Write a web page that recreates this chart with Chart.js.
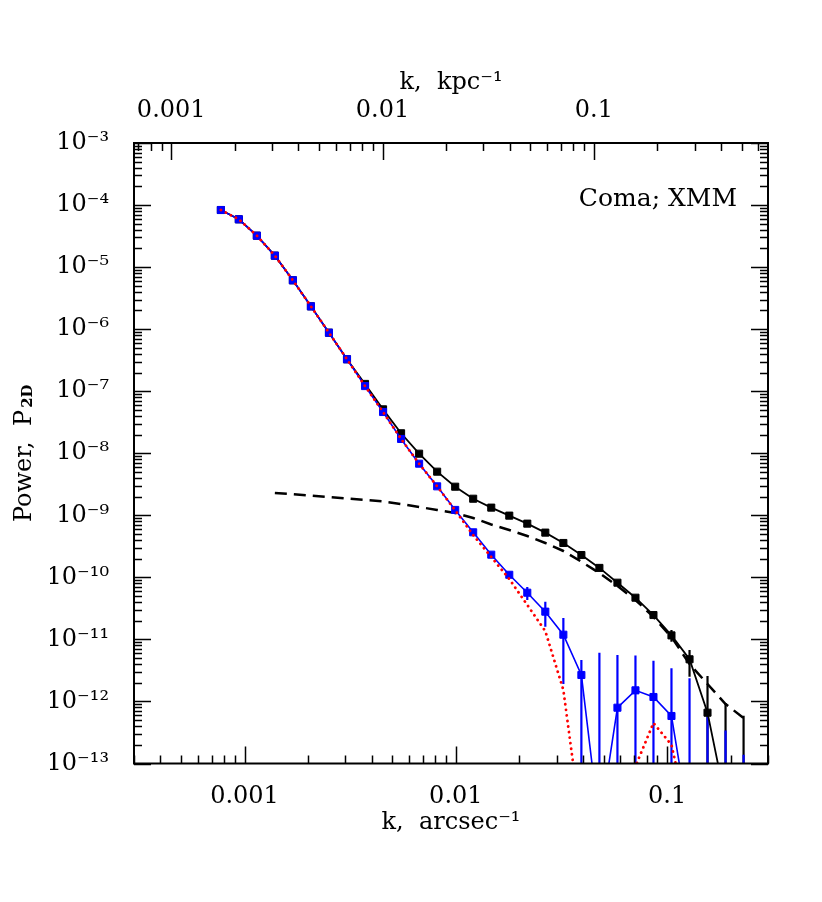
<!DOCTYPE html>
<html>
<head>
<meta charset="utf-8">
<title>Coma; XMM - power spectrum</title>
<script src="https://cdn.jsdelivr.net/npm/chart.js@4.4.1/dist/chart.umd.min.js"></script>
<style>
  html, body { margin: 0; padding: 0; background: #fff; }
  canvas { display: block; }
</style>
</head>
<body>
<canvas id="chart" width="822" height="902"></canvas>
<script>
// wavenumber bins, arcsec^-1
const kBins = [7.73e-4, 9.40e-4, 1.144e-3, 1.392e-3, 1.694e-3, 2.062e-3, 2.510e-3, 3.055e-3, 3.718e-3, 4.525e-3,
  5.507e-3, 6.703e-3, 8.158e-3, 9.93e-3, 1.208e-2, 1.471e-2, 1.790e-2, 2.178e-2, 2.651e-2, 3.227e-2,
  3.927e-2, 4.779e-2, 5.817e-2, 7.079e-2, 8.613e-2, 0.1048, 0.1276, 0.1552, 0.1889, 0.2299];

// black: measured power (values < 1e-13 are off the plot)
const measuredPower = [8.32e-5, 5.89e-5, 3.21e-5, 1.53e-5, 6.13e-6, 2.33e-6, 8.77e-7, 3.27e-7, 1.31e-7, 5.10e-8,
  2.10e-8, 9.84e-9, 5.05e-9, 2.89e-9, 1.85e-9, 1.33e-9, 9.88e-10, 7.34e-10, 5.26e-10, 3.58e-10,
  2.29e-10, 1.42e-10, 8.20e-11, 4.70e-11, 2.47e-11, 1.16e-11, 4.78e-12, 6.59e-13, 2.5e-14, 1e-14];
const measuredErrHi = [null, null, null, null, null, null, null, null, null, null,
  null, null, null, null, null, null, null, null, null, null,
  null, null, null, null, null, 1.42e-11, 6.74e-12, 2.57e-12, 9.4e-13, 5.9e-13];
const measuredErrLo = [null, null, null, null, null, null, null, null, null, null,
  null, null, null, null, null, null, null, null, null, null,
  null, null, null, null, null, 9.2e-12, 2.5e-12, 1e-14, 1e-14, 1e-14];

// blue: noise-subtracted power
const cleanPower = [8.32e-5, 5.89e-5, 3.21e-5, 1.53e-5, 6.13e-6, 2.33e-6, 8.77e-7, 3.27e-7, 1.21e-7, 4.62e-8,
  1.70e-8, 6.79e-9, 2.93e-9, 1.22e-9, 5.32e-10, 2.32e-10, 1.10e-10, 5.66e-11, 2.80e-11, 1.19e-11,
  2.67e-12, 1e-14, 7.93e-13, 1.51e-12, 1.18e-12, 5.83e-13, 1e-14, 1e-14, 1e-14, 1e-14];
const cleanErrHi = [null, null, null, null, null, null, null, null, null, null,
  null, null, null, null, null, null, null, 7.0e-11, 4.06e-11, 2.21e-11,
  4.66e-12, 6.1e-12, 5.61e-12, 5.5e-12, 4.54e-12, 3.42e-12, 2.36e-12, 5.7e-13, 3.4e-13, 1.38e-13];
const cleanErrLo = [null, null, null, null, null, null, null, null, null, null,
  null, null, null, null, null, null, null, 4.32e-11, 1.60e-11, 1.91e-12,
  1e-14, 1e-14, 1e-14, 1e-14, 1e-14, 1e-14, 1e-14, 1e-14, 1e-14, 1e-14];

// red dotted
const dottedPower = [8.32e-5, 5.89e-5, 3.21e-5, 1.53e-5, 6.13e-6, 2.33e-6, 8.77e-7, 3.27e-7, 1.21e-7, 4.62e-8,
  1.70e-8, 6.79e-9, 2.93e-9, 1.2e-9, 4.8e-10, 2.13e-10, 9.4e-11, 3.59e-11, 1.36e-11, 1.53e-12,
  1e-14, 1e-14, 1e-14, 9e-14, 4.5e-13, 2.0e-13, 1e-14, 1e-14, 1e-14, 1e-14];

// black dashed: noise model
const noiseModel = [null, null, null, 2.29e-9, 2.20e-9, 2.08e-9, 1.97e-9, 1.87e-9, 1.77e-9, 1.67e-9,
  1.52e-9, 1.36e-9, 1.22e-9, 1.09e-9, 9.05e-10, 7.11e-10, 5.80e-10, 4.64e-10, 3.58e-10, 2.66e-10,
  1.79e-10, 1.17e-10, 7.26e-11, 4.32e-11, 2.30e-11, 1.09e-11, 4.02e-12, 1.91e-12, 9.09e-13, 5.41e-13];

// axes
const kMin = 3e-4, kMax = 0.3;
const kpcPerArcsec = 0.45;
const bottomTickVals = [0.001, 0.01, 0.1];
const bottomTickLabels = ['0.001', '0.01', '0.1'];
const topTickVals = [0.001, 0.01, 0.1];
const topTickLabels = ['0.001', '0.01', '0.1'];
const yTickVals = [1e-13, 1e-12, 1e-11, 1e-10, 1e-9, 1e-8, 1e-7, 1e-6, 1e-5, 1e-4, 1e-3];
const yTickLabels = ['10⁻¹³', '10⁻¹²', '10⁻¹¹', '10⁻¹⁰', '10⁻⁹', '10⁻⁸', '10⁻⁷', '10⁻⁶', '10⁻⁵', '10⁻⁴', '10⁻³'];

const FONT = 'DejaVu Serif';
Chart.defaults.font.family = FONT;
Chart.defaults.color = '#000';

const pts = (arr) => kBins.map((k, i) => ({ x: k, y: arr[i] }));

function logTicks(min, max) {
  const out = [];
  for (let e = Math.floor(Math.log10(min)) - 1; e <= Math.ceil(Math.log10(max)); e++) {
    for (let m = 1; m <= 9; m++) {
      const v = m * Math.pow(10, e);
      if (v >= min * 0.9999 && v <= max * 1.0001) out.push({ v: v, major: m === 1 });
    }
  }
  return out;
}

function drawErrBars(ctx, xs, ys, hi, lo, color) {
  ctx.strokeStyle = color;
  ctx.lineWidth = 2.2;
  for (let i = 0; i < kBins.length; i++) {
    if (hi[i] == null) continue;
    const px = xs.getPixelForValue(kBins[i]);
    ctx.beginPath();
    ctx.moveTo(px, ys.getPixelForValue(hi[i]));
    ctx.lineTo(px, ys.getPixelForValue(lo[i]));
    ctx.stroke();
  }
}

const decorations = {
  id: 'decorations',
  beforeDatasetsDraw(chart) {
    const { ctx, chartArea: a, scales } = chart;
    ctx.save();
    ctx.beginPath();
    ctx.rect(a.left, a.top, a.right - a.left, a.bottom - a.top);
    ctx.clip();
    drawErrBars(ctx, scales.x, scales.y, measuredErrHi, measuredErrLo, '#000');
    drawErrBars(ctx, scales.x, scales.y, cleanErrHi, cleanErrLo, '#0000ff');
    ctx.restore();
  },
  afterDraw(chart) {
    const { ctx, chartArea: a, scales } = chart;
    const major = 17, minor = 8;
    ctx.save();
    ctx.strokeStyle = '#000';
    ctx.lineWidth = 1.5;
    ctx.beginPath();
    logTicks(scales.x.min, scales.x.max).forEach(t => {
      const px = Math.round(scales.x.getPixelForValue(t.v)) + 0.5;
      ctx.moveTo(px, a.bottom);
      ctx.lineTo(px, a.bottom - (t.major ? major : minor));
    });
    logTicks(scales.x2.min, scales.x2.max).forEach(t => {
      const px = Math.round(scales.x2.getPixelForValue(t.v)) + 0.5;
      ctx.moveTo(px, a.top);
      ctx.lineTo(px, a.top + (t.major ? major : minor));
    });
    logTicks(scales.y.min, scales.y.max).forEach(t => {
      const py = Math.round(scales.y.getPixelForValue(t.v)) + 0.5;
      const len = t.major ? major : minor;
      ctx.moveTo(a.left, py);
      ctx.lineTo(a.left + len, py);
      ctx.moveTo(a.right, py);
      ctx.lineTo(a.right - len, py);
    });
    ctx.stroke();

    ctx.lineWidth = 2;
    ctx.strokeRect(a.left, a.top, a.right - a.left, a.bottom - a.top);

    // label in the corner
    ctx.fillStyle = '#000';
    ctx.font = '25px "' + FONT + '"';
    ctx.textAlign = 'right';
    ctx.textBaseline = 'alphabetic';
    ctx.fillText('Coma; XMM', a.right - 31, a.top + 63);

    // y axis title with subscript
    ctx.translate(31, (a.top + a.bottom) / 2);
    ctx.rotate(-Math.PI / 2);
    ctx.font = '24px "' + FONT + '"';
    const main = 'Power,  P';
    const w1 = ctx.measureText(main).width;
    ctx.font = 'bold 15px "' + FONT + '"';
    const w2 = ctx.measureText('2D').width;
    const x0 = -(w1 + w2 + 2) / 2;
    ctx.textAlign = 'left';
    ctx.font = '24px "' + FONT + '"';
    ctx.fillText(main, x0, 0);
    ctx.font = 'bold 15px "' + FONT + '"';
    ctx.fillText('2D', x0 + w1 + 2, 1);
    ctx.restore();
  }
};

new Chart(document.getElementById('chart'), {
  type: 'line',
  data: {
    datasets: [
      {
        label: 'dotted',
        data: pts(dottedPower),
        borderColor: '#ff0000',
        borderWidth: 2.8,
        borderDash: [0.1, 5.5],
        borderCapStyle: 'round',
        pointRadius: 0,
        fill: false
      },
      {
        label: 'noise subtracted',
        data: pts(cleanPower),
        borderColor: '#0000ff',
        backgroundColor: '#0000ff',
        borderWidth: 1.6,
        pointStyle: 'rect',
        pointRadius: 5,
        pointBorderWidth: 1,
        fill: false
      },
      {
        label: 'measured',
        data: pts(measuredPower),
        borderColor: '#000',
        backgroundColor: '#000',
        borderWidth: 1.8,
        pointStyle: 'rect',
        pointRadius: 5,
        pointBorderWidth: 1,
        fill: false
      },
      {
        label: 'noise model',
        data: pts(noiseModel),
        borderColor: '#000',
        borderWidth: 2.5,
        borderDash: [12, 7],
        pointRadius: 0,
        fill: false
      }
    ]
  },
  options: {
    responsive: false,
    devicePixelRatio: 1,
    animation: false,
    layout: { padding: { left: 50, right: 54, top: 68, bottom: 65 } },
    plugins: { legend: { display: false }, tooltip: { enabled: false } },
    scales: {
      x: {
        type: 'logarithmic',
        position: 'bottom',
        min: kMin,
        max: kMax,
        grid: { display: false },
        border: { display: false },
        afterBuildTicks: s => { s.ticks = bottomTickVals.map(v => ({ value: v })); },
        afterFit: s => { s.height = 73.5; },
        ticks: {
          autoSkip: false,
          maxRotation: 0,
          padding: 11,
          font: { size: 24 },
          callback: v => bottomTickLabels[bottomTickVals.findIndex(t => Math.abs(t - v) / t < 1e-6)] || ''
        },
        title: { display: true, text: 'k,  arcsec⁻¹', font: { size: 24 }, padding: 0 }
      },
      x2: {
        type: 'logarithmic',
        position: 'top',
        display: true,
        min: kMin / kpcPerArcsec,
        max: kMax / kpcPerArcsec,
        grid: { display: false },
        border: { display: false },
        afterBuildTicks: s => { s.ticks = topTickVals.map(v => ({ value: v })); },
        afterFit: s => { s.height = 75; },
        ticks: {
          autoSkip: false,
          maxRotation: 0,
          padding: 9.5,
          font: { size: 24 },
          callback: v => topTickLabels[topTickVals.findIndex(t => Math.abs(t - v) / t < 1e-6)] || ''
        },
        title: { display: true, text: 'k,  kpc⁻¹', font: { size: 24 }, padding: 0 }
      },
      y: {
        type: 'logarithmic',
        min: 1e-13,
        max: 1e-3,
        grid: { display: false },
        border: { display: false },
        afterBuildTicks: s => { s.ticks = yTickVals.map(v => ({ value: v })); },
        afterFit: s => { s.width = 84; },
        ticks: {
          autoSkip: false,
          padding: 17,
          font: { size: 24 },
          callback: v => yTickLabels[yTickVals.findIndex(t => Math.abs(t - v) / t < 1e-6)] || ''
        }
      }
    }
  },
  plugins: [decorations]
});
</script>
</body>
</html>
